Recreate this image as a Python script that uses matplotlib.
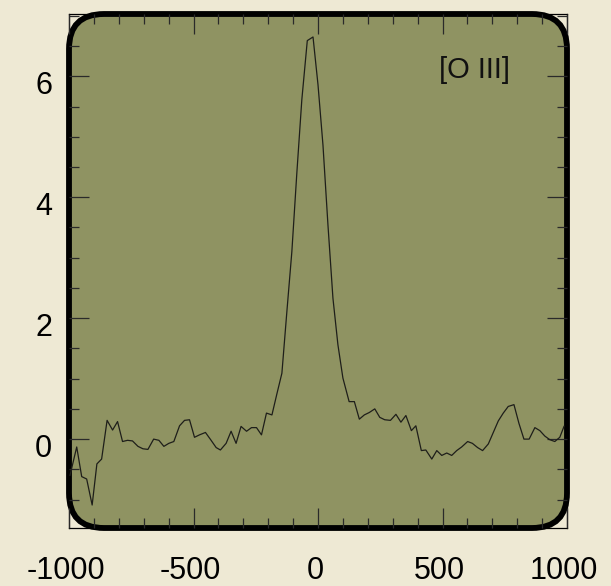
import matplotlib
matplotlib.use("Agg")
import matplotlib.pyplot as plt
from matplotlib.patches import FancyBboxPatch
from matplotlib.transforms import ScaledTranslation
from matplotlib.ticker import MultipleLocator

plt.rcParams['font.family'] = ['Liberation Sans', 'DejaVu Sans']
plt.rcParams['axes.unicode_minus'] = False

velocity = [-996, -969, -949, -929, -907, -888, -869, -847, -825, -805, -785, -765, -745,
            -723, -703, -683, -660, -639, -619, -599, -579, -556, -536, -516, -496, -476,
            -452, -431, -409, -392, -369, -349, -329, -309, -287, -267, -247, -227, -207,
            -185, -165, -145, -125, -105, -85, -65, -43, -20, 0, 20, 40, 60, 80, 100, 125,
            146, 166, 186, 206, 228, 248, 268, 291, 313, 333, 353, 375, 393, 415, 433, 457,
            477, 497, 517, 537, 557, 577, 601, 620, 641, 661, 684, 704, 724, 744, 764, 787,
            807, 827, 848, 871, 891, 911, 931, 951, 971, 988]
flux = [-0.60, -0.13, -0.62, -0.66, -1.09, -0.41, -0.33, 0.31, 0.15, 0.29, -0.04, -0.02, -0.03,
        -0.12, -0.16, -0.17, 0.00, -0.02, -0.12, -0.07, -0.04, 0.22, 0.31, 0.32, 0.03, 0.07,
        0.11, -0.01, -0.14, -0.18, -0.07, 0.13, -0.07, 0.21, 0.13, 0.19, 0.19, 0.07, 0.43,
        0.40, 0.75, 1.09, 2.11, 3.10, 4.40, 5.61, 6.59, 6.65, 5.86, 4.86, 3.54, 2.33, 1.56,
        1.01, 0.62, 0.62, 0.33, 0.40, 0.44, 0.50, 0.36, 0.32, 0.31, 0.41, 0.28, 0.39, 0.14,
        0.22, -0.19, -0.18, -0.33, -0.19, -0.27, -0.23, -0.27, -0.19, -0.13, -0.04, -0.07,
        -0.14, -0.19, -0.08, 0.11, 0.30, 0.43, 0.54, 0.57, 0.26, 0.00, 0.00, 0.19, 0.14,
        0.05, -0.01, -0.04, 0.03, 0.21]

xticks = [-1000, -500, 0, 500, 1000]
xticklabels = ['-1000', '-500', '0', '500', '1000']
yticks = [0, 2, 4, 6]
yticklabels = ['0', '2', '4', '6']
label = '[O III]'

BG = '#eee9d4'
PANEL = '#8f9362'

fig = plt.figure(figsize=(6.11, 5.86), dpi=100, facecolor=BG)
ax = fig.add_axes([69/611, 1 - 528/586, 498/611, 514/586])
ax.set_facecolor(BG)

# rounded panel
w_px, h_px = 498.0, 514.0
r_px = 35.0
box = FancyBboxPatch((0, 0), 1, 1, boxstyle=f"round,pad=0,rounding_size={r_px / w_px}",
                     mutation_aspect=w_px / h_px, transform=ax.transAxes,
                     facecolor=PANEL, edgecolor='black', linewidth=4.2,
                     clip_on=False, zorder=1)
ax.add_patch(box)

ax.plot(velocity, flux, color='#1e1e1a', linewidth=0.9, zorder=2)

ax.set_xlim(-1000, 1000)
ax.set_ylim(-1.47, 7.03)
ax.set_xticks(xticks)
ax.set_xticklabels(xticklabels)
ax.set_yticks(yticks)
ax.set_yticklabels(yticklabels)
ax.xaxis.set_minor_locator(MultipleLocator(100))
ax.yaxis.set_minor_locator(MultipleLocator(0.5))

ax.tick_params(which='both', direction='in', top=True, right=True, color='#2a2a2a')
ax.tick_params(which='major', length=14.5, width=0.9, labelsize=22)
ax.tick_params(which='minor', length=7, width=0.9)
ax.tick_params(axis='x', which='major', pad=20)
ax.tick_params(axis='y', which='major', pad=12)

for sp in ax.spines.values():
    sp.set_linewidth(0.9)
    sp.set_color('black')
    sp.set_zorder(0.8)

off = ScaledTranslation(0, -6 / 100, fig.dpi_scale_trans)
for t in ax.get_yticklabels():
    t.set_transform(t.get_transform() + off)
offx = ScaledTranslation(-3 / 100, 0, fig.dpi_scale_trans)
for t in ax.get_xticklabels():
    t.set_transform(t.get_transform() + offx)

ax.text(0.815, 0.891, label, transform=ax.transAxes, ha='center', va='center',
        fontsize=21, color='#111111', zorder=3)

fig.savefig('out.png', dpi=100, facecolor=BG)
